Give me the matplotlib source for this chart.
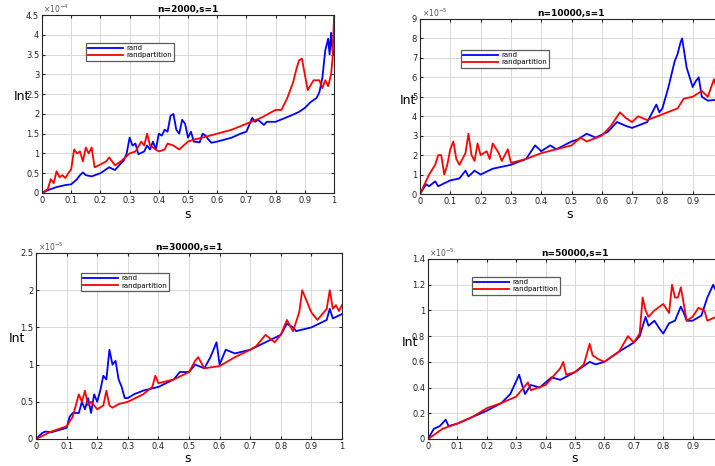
import matplotlib
matplotlib.use("Agg")
import matplotlib.pyplot as plt
from matplotlib.ticker import MultipleLocator

# ---- data (x = s, y = Int in units of the axis exponent) ----
# n=2000, s=1  (x1e-4)
s_a_rand = [0, 0.02, 0.05, 0.08, 0.1, 0.12, 0.13, 0.14, 0.15, 0.17, 0.2, 0.22, 0.23, 0.25, 0.27, 0.28,
            0.29, 0.3, 0.31, 0.32, 0.33, 0.35, 0.36, 0.37, 0.38, 0.39, 0.4, 0.41, 0.42, 0.43, 0.44, 0.45,
            0.46, 0.47, 0.48, 0.49, 0.5, 0.51, 0.52, 0.54, 0.55, 0.56, 0.57, 0.58, 0.6, 0.65, 0.68, 0.7,
            0.72, 0.73, 0.74, 0.76, 0.77, 0.8, 0.85, 0.88, 0.9, 0.92, 0.94, 0.95, 0.96, 0.97, 0.98,
            0.985, 0.99, 0.995, 1.0]
int_a_rand = [0, 0.07, 0.15, 0.2, 0.22, 0.35, 0.45, 0.52, 0.45, 0.42, 0.5, 0.6, 0.65, 0.58, 0.75, 0.82,
              1.0, 1.4, 1.2, 1.25, 0.98, 1.05, 1.2, 1.1, 1.3, 1.1, 1.5, 1.45, 1.6, 1.55, 1.95, 2.0,
              1.6, 1.5, 1.85, 1.75, 1.4, 1.55, 1.3, 1.28, 1.5, 1.45, 1.35, 1.27, 1.3, 1.4, 1.5, 1.55,
              1.9, 1.8, 1.85, 1.72, 1.8, 1.8, 1.95, 2.05, 2.15, 2.3, 2.4, 2.55, 2.9, 3.6, 3.9,
              3.5, 4.05, 3.6, 3.5]
s_a_part = [0, 0.02, 0.03, 0.04, 0.05, 0.06, 0.07, 0.08, 0.09, 0.1, 0.11, 0.12, 0.13, 0.14, 0.15, 0.16,
            0.17, 0.18, 0.2, 0.22, 0.23, 0.25, 0.27, 0.3, 0.32, 0.34, 0.35, 0.36, 0.37, 0.4, 0.42, 0.43,
            0.45, 0.47, 0.5, 0.52, 0.55, 0.6, 0.65, 0.7, 0.75, 0.8, 0.82, 0.84, 0.86, 0.87, 0.88, 0.89,
            0.9, 0.91, 0.93, 0.95, 0.96, 0.97, 0.98, 0.99, 0.995, 1.0]
int_a_part = [0, 0.1, 0.35, 0.25, 0.55, 0.4, 0.45, 0.38, 0.5, 0.6, 1.1, 1.0, 1.05, 0.8, 1.15, 1.0,
              1.15, 0.65, 0.72, 0.8, 0.9, 0.7, 0.8, 1.0, 1.05, 1.3, 1.2, 1.5, 1.2, 1.05, 1.1, 1.25,
              1.2, 1.1, 1.3, 1.35, 1.4, 1.5, 1.6, 1.75, 1.9, 2.1, 2.1, 2.4, 2.8, 3.1, 3.35, 3.4,
              3.0, 2.6, 2.85, 2.85, 2.65, 2.85, 2.7, 3.0, 3.4, 4.45]

# n=10000, s=1  (x1e-5)
s_b_rand = [0, 0.02, 0.03, 0.05, 0.06, 0.1, 0.13, 0.15, 0.16, 0.18, 0.2, 0.24, 0.3, 0.35, 0.38, 0.4,
            0.43, 0.45, 0.5, 0.52, 0.55, 0.58, 0.62, 0.65, 0.68, 0.7, 0.75, 0.78, 0.79, 0.8, 0.82,
            0.84, 0.85, 0.86, 0.865, 0.88, 0.9, 0.91, 0.92, 0.93, 0.95, 0.98, 1.0]
int_b_rand = [0, 0.5, 0.4, 0.65, 0.4, 0.7, 0.8, 1.2, 0.9, 1.2, 1.0, 1.3, 1.5, 1.8, 2.5, 2.2,
              2.5, 2.3, 2.7, 2.8, 3.1, 2.9, 3.2, 3.7, 3.5, 3.4, 3.7, 4.6, 4.2, 4.4, 5.5,
              6.8, 7.2, 7.8, 8.0, 6.5, 5.5, 5.8, 6.0, 5.0, 4.8, 4.85, 4.85]
s_b_part = [0, 0.03, 0.05, 0.06, 0.07, 0.08, 0.09, 0.1, 0.11, 0.12, 0.13, 0.15, 0.16, 0.17, 0.18,
            0.19, 0.2, 0.22, 0.23, 0.24, 0.26, 0.27, 0.29, 0.3, 0.35, 0.4, 0.45, 0.5, 0.53, 0.55,
            0.6, 0.63, 0.66, 0.68, 0.7, 0.72, 0.75, 0.8, 0.85, 0.87, 0.9, 0.93, 0.95, 0.97, 0.98, 1.0]
int_b_part = [0, 1.0, 1.5, 2.0, 2.0, 1.0, 1.5, 2.3, 2.7, 1.8, 1.5, 2.1, 3.1, 2.0, 1.7,
              2.6, 2.0, 2.2, 1.8, 2.6, 2.1, 1.7, 2.3, 1.6, 1.8, 2.1, 2.3, 2.5, 2.9, 2.7,
              3.0, 3.5, 4.2, 3.9, 3.7, 4.0, 3.8, 4.1, 4.4, 4.9, 5.0, 5.3, 5.0, 5.9, 5.4, 5.5]

# n=30000, s=1  (x1e-5)
s_c_rand = [0, 0.02, 0.03, 0.05, 0.1, 0.11, 0.12, 0.14, 0.15, 0.16, 0.17, 0.18, 0.19, 0.2, 0.21,
            0.22, 0.23, 0.24, 0.25, 0.26, 0.27, 0.28, 0.29, 0.3, 0.32, 0.35, 0.4, 0.45, 0.47, 0.5,
            0.52, 0.55, 0.57, 0.59, 0.6, 0.62, 0.65, 0.7, 0.75, 0.8, 0.82, 0.84, 0.85, 0.9, 0.95,
            0.96, 0.97, 1.0]
int_c_rand = [0, 0.08, 0.1, 0.09, 0.15, 0.3, 0.35, 0.35, 0.5, 0.4, 0.55, 0.35, 0.6, 0.5, 0.65,
              0.85, 0.8, 1.2, 1.0, 1.05, 0.8, 0.7, 0.55, 0.55, 0.6, 0.65, 0.7, 0.8, 0.9, 0.9,
              1.0, 0.95, 1.1, 1.3, 1.0, 1.2, 1.15, 1.2, 1.3, 1.4, 1.55, 1.5, 1.45, 1.5, 1.6,
              1.75, 1.62, 1.68]
s_c_part = [0, 0.05, 0.1, 0.12, 0.14, 0.15, 0.16, 0.17, 0.18, 0.2, 0.22, 0.23, 0.24, 0.25, 0.27,
            0.3, 0.35, 0.38, 0.39, 0.4, 0.45, 0.5, 0.52, 0.53, 0.55, 0.6, 0.65, 0.7, 0.72, 0.75,
            0.78, 0.8, 0.82, 0.84, 0.86, 0.87, 0.88, 0.9, 0.92, 0.95, 0.96, 0.97, 0.98, 0.99, 1.0]
int_c_part = [0, 0.1, 0.17, 0.3, 0.6, 0.5, 0.65, 0.45, 0.5, 0.4, 0.45, 0.65, 0.45, 0.42, 0.47,
              0.5, 0.6, 0.7, 0.85, 0.75, 0.8, 0.9, 1.05, 1.1, 0.95, 0.98, 1.1, 1.2, 1.25, 1.4,
              1.3, 1.4, 1.6, 1.45, 1.7, 2.0, 1.9, 1.7, 1.6, 1.75, 2.0, 1.75, 1.8, 1.72, 1.8]

# n=50000, s=1  (x1e-5)
s_d_rand = [0, 0.02, 0.04, 0.06, 0.07, 0.1, 0.15, 0.2, 0.25, 0.28, 0.3, 0.31, 0.32, 0.33, 0.35,
            0.38, 0.42, 0.45, 0.5, 0.55, 0.57, 0.6, 0.65, 0.7, 0.72, 0.74, 0.75, 0.77, 0.79, 0.8,
            0.82, 0.84, 0.86, 0.87, 0.88, 0.9, 0.93, 0.95, 0.97, 0.98, 1.0]
int_d_rand = [0, 0.08, 0.1, 0.15, 0.1, 0.12, 0.17, 0.22, 0.28, 0.35, 0.45, 0.5, 0.42, 0.35, 0.42,
              0.4, 0.48, 0.46, 0.52, 0.6, 0.58, 0.6, 0.68, 0.75, 0.8, 0.95, 0.88, 0.92, 0.85, 0.82,
              0.9, 0.92, 1.03, 0.98, 0.92, 0.92, 0.96, 1.1, 1.2, 1.15, 1.18]
s_d_part = [0, 0.05, 0.1, 0.15, 0.2, 0.25, 0.3, 0.34, 0.35, 0.4, 0.45, 0.46, 0.47, 0.5, 0.53,
            0.55, 0.56, 0.58, 0.6, 0.65, 0.68, 0.7, 0.72, 0.73, 0.74, 0.75, 0.77, 0.8, 0.82, 0.83,
            0.84, 0.85, 0.86, 0.88, 0.9, 0.92, 0.94, 0.95, 0.98, 1.0]
int_d_part = [0, 0.08, 0.12, 0.17, 0.24, 0.28, 0.33, 0.44, 0.38, 0.42, 0.55, 0.6, 0.5, 0.52, 0.58,
              0.74, 0.65, 0.62, 0.6, 0.68, 0.8, 0.75, 0.82, 1.1, 1.0, 0.95, 1.0, 1.05, 0.98, 1.2,
              1.1, 1.1, 1.18, 0.92, 0.95, 1.02, 1.0, 0.92, 0.95, 0.98]

titles = ["n=2000,s=1", "n=10000,s=1", "n=30000,s=1", "n=50000,s=1"]
exponents = [-4, -5, -5, -5]
ylims = [4.5, 9, 2.5, 1.4]
ysteps = [0.5, 1, 0.5, 0.2]

W, H = 715, 466
# axes boxes in pixels: left, right, top, bottom (right column runs past the edge)
boxes = [(42, 334, 15, 193), (420, 723, 19, 194), (36, 342, 253, 439), (428, 722, 259, 439)]
legend_anchor = [(0.15, 0.843), (0.135, 0.823), (0.147, 0.892), (0.15, 0.9)]
ylabel_pos = [(22, 97), (408, 100), (17, 338), (410, 342)]
xlabel_pos = [(188, 215), (570, 215), (188, 459), (575, 459)]

series = [
    (s_a_rand, int_a_rand, s_a_part, int_a_part),
    (s_b_rand, int_b_rand, s_b_part, int_b_part),
    (s_c_rand, int_c_rand, s_c_part, int_c_part),
    (s_d_rand, int_d_rand, s_d_part, int_d_part),
]

fig = plt.figure(figsize=(W / 100, H / 100), dpi=100)
fig.patch.set_facecolor("white")

for i, (xr, yr, xp, yp) in enumerate(series):
    l, r, t, b = boxes[i]
    ax = fig.add_axes([l / W, 1 - b / H, (r - l) / W, (b - t) / H])
    ax.plot(xr, yr, color="#0000ff", lw=1.3, label="rand")
    ax.plot(xp, yp, color="#ff0000", lw=1.3, label="randpartition")
    ax.set_xlim(0, 1)
    ax.set_ylim(0, ylims[i])
    ax.xaxis.set_major_locator(MultipleLocator(0.1))
    ax.yaxis.set_major_locator(MultipleLocator(ysteps[i]))
    ax.xaxis.set_major_formatter(plt.FuncFormatter(lambda v, p: f"{v:g}"))
    ax.yaxis.set_major_formatter(plt.FuncFormatter(lambda v, p: f"{v:g}"))
    ax.grid(True, color="#d9d9d9", lw=0.7)
    ax.set_axisbelow(True)
    ax.tick_params(direction="in", labelsize=6, length=2.5, pad=2, colors="#262626",
                   top=True, right=True)
    for sp in ax.spines.values():
        sp.set_color("#262626")
        sp.set_linewidth(0.8)
    ax.set_title(titles[i], fontsize=6.5, fontweight="bold", pad=2)
    ax.text(0.005, 1.0, r"$\times10^{%d}$" % exponents[i], transform=ax.transAxes,
            fontsize=5.5, color="#555555", va="bottom", ha="left")
    leg = ax.legend(loc="upper left", bbox_to_anchor=legend_anchor[i], fontsize=5,
                    handlelength=5, frameon=True, fancybox=False, borderpad=0.3,
                    labelspacing=0.2, handletextpad=0.5, borderaxespad=0)
    leg.get_frame().set_edgecolor("#333333")
    leg.get_frame().set_linewidth(0.9)
    fig.text(ylabel_pos[i][0] / W, 1 - ylabel_pos[i][1] / H, "Int", fontsize=9,
             ha="center", va="center")
    fig.text(xlabel_pos[i][0] / W, 1 - xlabel_pos[i][1] / H, "s", fontsize=9,
             ha="center", va="center")

fig.savefig("out.png", dpi=100)
